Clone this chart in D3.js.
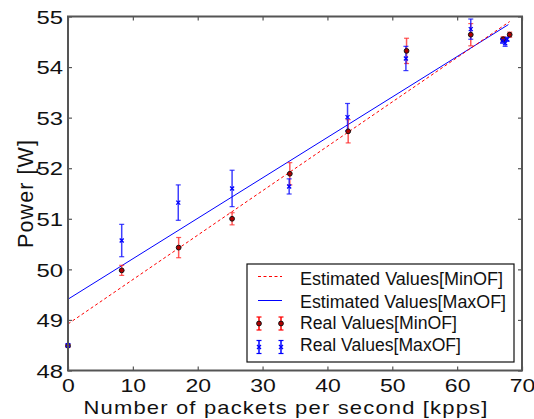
<!DOCTYPE html>
<html><head><meta charset="utf-8">
<script src="https://cdn.jsdelivr.net/npm/d3@7"></script>
<style>body{margin:0;background:#fff}svg{display:block}text{font-family:"Liberation Sans",Arial,sans-serif;fill:#111}</style>
</head><body>
<script>
// ---- data ----
const xTicks = [0,10,20,30,40,50,60,70];
const yTicks = [48,49,50,51,52,53,54,55];
const minX   = [0, 8.28, 17.06, 25.3, 34.2, 43.2, 52.2, 62.1, 67.1, 68.1];
const minY   = [48.49, 49.98, 50.43, 51.0, 51.89, 52.73, 54.32, 54.64, 54.55, 54.64];
const minErr = [0.03, 0.1, 0.2, 0.12, 0.22, 0.23, 0.25, 0.22, 0.05, 0.05];
const maxX   = [0, 8.28, 17.0, 25.3, 34.1, 43.1, 52.1, 62.1, 67.0, 67.4, 67.7];
const maxY   = [48.5, 50.57, 51.32, 51.6, 51.64, 53.01, 54.17, 54.75, 54.52, 54.47, 54.55];
const maxErr = [0.03, 0.32, 0.35, 0.36, 0.15, 0.27, 0.24, 0.2, 0.05, 0.06, 0.04];
const estMinX = [0, 68.1], estMinY = [48.92, 54.9];
const estMaxX = [0, 67.9], estMaxY = [49.41, 54.84];
const legendLabels = ["Estimated Values[MinOF]","Estimated Values[MaxOF]","Real Values[MinOF]","Real Values[MaxOF]"];
const legendWidths = [203, 206, 157, 161];

const W=534,H=419;
const svg=d3.select("body").append("svg").attr("width",W).attr("height",H);
const x=d3.scaleLinear().domain([0,70]).range([68,522]);
const y=d3.scaleLinear().domain([48,55]).range([370.5,16.5]);
const axisCol="#555";

// fit lines
const line=d3.line().x(d=>x(d[0])).y(d=>y(d[1]));
svg.append("path").attr("d",line(estMaxX.map((v,i)=>[v,estMaxY[i]])))
  .attr("fill","none").attr("stroke","#0000ff").attr("stroke-width",1);
svg.append("path").attr("d",line(estMinX.map((v,i)=>[v,estMinY[i]])))
  .attr("fill","none").attr("stroke","#ff0000").attr("stroke-width",1).attr("stroke-dasharray","3,2.5");

function errbar(g,cx,y0,y1,col,op){
  g.append("line").attr("x1",cx).attr("x2",cx).attr("y1",y0).attr("y2",y1).attr("stroke",col).attr("stroke-width",1.5).attr("opacity",op);
  [y0,y1].forEach(v=>g.append("line").attr("x1",cx-2.5).attr("x2",cx+2.5).attr("y1",v).attr("y2",v).attr("stroke",col).attr("stroke-width",1.2).attr("opacity",op));
}
function xmark(g,cx,cy){
  const s=2;
  g.append("path").attr("d",`M${cx-s},${cy-s}L${cx+s},${cy+s}M${cx-s},${cy+s}L${cx+s},${cy-s}`).attr("stroke","#0000ff").attr("stroke-width",1.3);
}
function dot(g,cx,cy){
  g.append("circle").attr("cx",cx).attr("cy",cy).attr("r",2.4).attr("fill","#b00000").attr("stroke","#111").attr("stroke-width",1);
}
const gd=svg.append("g");
minX.forEach((v,i)=>errbar(gd,x(v),y(minY[i]+minErr[i]),y(minY[i]-minErr[i]),"#ff2020",0.75));
maxX.forEach((v,i)=>errbar(gd,x(v),y(maxY[i]+maxErr[i]),y(maxY[i]-maxErr[i]),"#1010ff",0.8));
minX.forEach((v,i)=>dot(gd,x(v),y(minY[i])));
maxX.forEach((v,i)=>xmark(gd,x(v),y(maxY[i])));

// axes box
svg.append("rect").attr("x",68).attr("y",16.5).attr("width",454).attr("height",354)
  .attr("fill","none").attr("stroke",axisCol).attr("stroke-width",2);
const ax=svg.append("g").attr("transform","translate(0,370.5)").call(d3.axisBottom(x).tickValues(xTicks).tickSize(-4).tickPadding(8.5).tickFormat(d3.format("d")));
const axT=svg.append("g").attr("transform","translate(0,16.5)").call(d3.axisTop(x).tickValues(xTicks).tickSize(-4).tickFormat(""));
const ay=svg.append("g").attr("transform","translate(68,0)").call(d3.axisLeft(y).tickValues(yTicks).tickSize(-4).tickPadding(5).tickFormat(d3.format("d")));
const ayR=svg.append("g").attr("transform","translate(522,0)").call(d3.axisRight(y).tickValues(yTicks).tickSize(-4).tickFormat(""));
[ax,axT,ay,ayR].forEach(g=>{g.select(".domain").remove();g.selectAll(".tick line").attr("stroke",axisCol).attr("stroke-width",1.2);});
ax.selectAll(".tick text").attr("font-size",18.5).attr("fill","#111").attr("font-family","Liberation Sans")
  .each(function(d){const n=String(d).length;d3.select(this).attr("textLength",n*12.8).attr("lengthAdjust","spacingAndGlyphs");});
ay.selectAll(".tick text").attr("font-size",18.5).attr("fill","#111").attr("font-family","Liberation Sans").attr("dy","0.36em")
  .attr("textLength",26.5).attr("lengthAdjust","spacingAndGlyphs");

// axis labels
svg.append("text").attr("x",286).attr("y",413.5).attr("text-anchor","middle").attr("font-size",18.5)
  .style("letter-spacing","1px")
  .attr("textLength",405).attr("lengthAdjust","spacingAndGlyphs").text("Number of packets per second [kpps]");
svg.append("text").attr("transform","translate(33,194) rotate(-90)").attr("text-anchor","middle").attr("font-size",21.5)
  .attr("textLength",108).attr("lengthAdjust","spacing").text("Power [W]");

// legend
const lg=svg.append("g");
lg.append("rect").attr("x",247).attr("y",264).attr("width",267).attr("height",98).attr("fill","#fff").attr("stroke","#111").attr("stroke-width",1.2);
const rows=[276.5,300.5,323.5,347];
const baselines=[285,307.5,329,351];
lg.append("line").attr("x1",258).attr("x2",282).attr("y1",rows[0]).attr("y2",rows[0]).attr("stroke","#ff0000").attr("stroke-dasharray","3,2.5");
lg.append("line").attr("x1",258).attr("x2",282).attr("y1",rows[1]).attr("y2",rows[1]).attr("stroke","#0000ff");
[259,281].forEach(cx=>{
  errbar(lg,cx,rows[2]-6.5,rows[2]+6.5,"#ff0000",1); dot(lg,cx,rows[2]);
  errbar(lg,cx,rows[3]-6.5,rows[3]+6.5,"#0000ff",1); xmark(lg,cx,rows[3]);
});
legendLabels.forEach((t,i)=>lg.append("text").attr("x",300).attr("y",baselines[i]).attr("font-size",17.5)
  .attr("textLength",legendWidths[i]).attr("lengthAdjust","spacingAndGlyphs").text(t));
</script>
</body></html>
